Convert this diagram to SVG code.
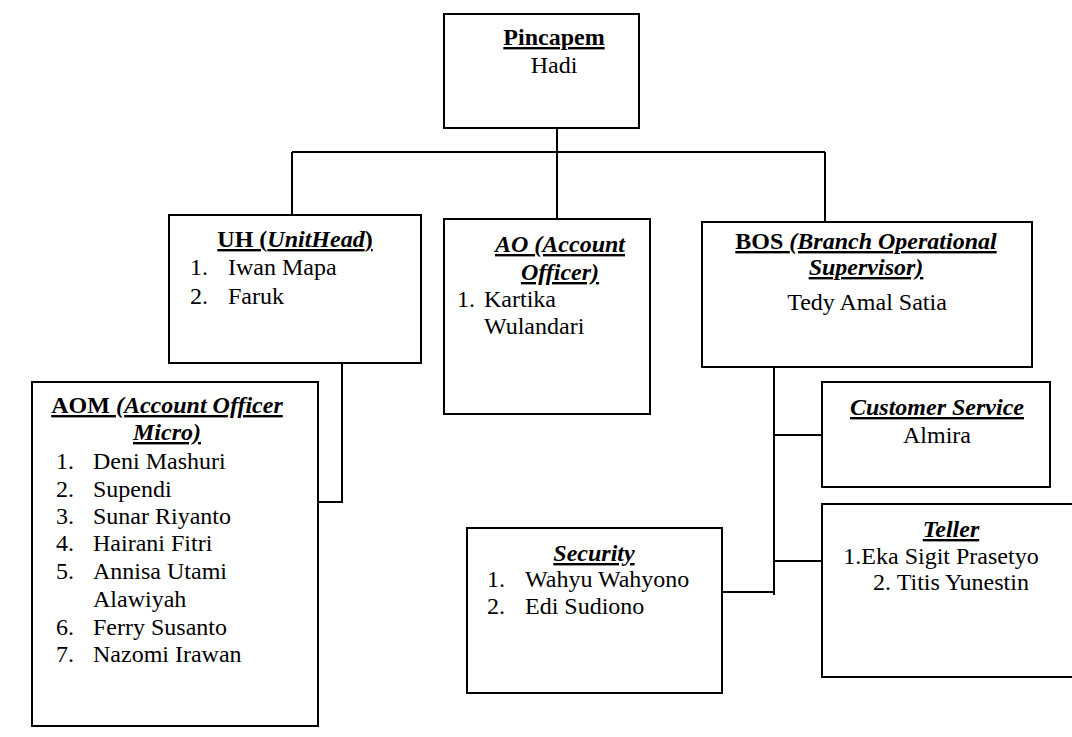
<svg xmlns="http://www.w3.org/2000/svg" width="1072" height="737" viewBox="0 0 1072 737">
<style>
.box{fill:#fff;stroke:#000;stroke-width:2}
.ln{fill:none;stroke:#000;stroke-width:2}
text{font-family:"Liberation Serif",LiberationSerif,Tinos,"Times New Roman",Times,"DejaVu Serif","Noto Serif",FreeSerif,serif;font-size:24px;fill:#000}
.t{font-weight:bold;text-decoration:underline}
.i{font-style:italic}
.c{text-anchor:middle}
</style>
<rect width="1072" height="737" fill="#fff"/>
<g id="connectors">
<path class="ln" d="M557 128V219M292 152H825M292 152V215M825 152V222"/>
<path class="ln" d="M342 363V502H318"/>
<path class="ln" d="M774 367V595M774 435H822M774 561H822M722 592H774"/>
</g>
<g id="pincapem">
<rect class="box" x="444" y="14" width="195" height="114"/>
<text class="t c" x="554" y="45">Pincapem</text>
<text class="c" x="554" y="73">Hadi</text>
</g>
<g id="uh">
<rect class="box" x="169" y="215" width="252" height="148"/>
<text class="t c" x="295" y="247"><tspan>UH (</tspan><tspan class="i">UnitHead</tspan><tspan>)</tspan></text>
<text x="190" y="275">1.</text><text x="228" y="275">Iwan Mapa</text>
<text x="190" y="304">2.</text><text x="228" y="304">Faruk</text>
</g>
<g id="aom">
<rect class="box" x="32" y="382" width="286" height="344"/>
<text class="t c" x="167" y="413"><tspan>AOM </tspan><tspan class="i">(Account Officer</tspan></text>
<text class="t i c" x="167" y="440">Micro)</text>
<text x="56" y="469">1.</text><text x="93" y="469">Deni Mashuri</text>
<text x="56" y="497">2.</text><text x="93" y="497">Supendi</text>
<text x="56" y="524">3.</text><text x="93" y="524">Sunar Riyanto</text>
<text x="56" y="551">4.</text><text x="93" y="551">Hairani Fitri</text>
<text x="56" y="579">5.</text><text x="93" y="579">Annisa Utami</text>
<text x="93" y="607">Alawiyah</text>
<text x="56" y="635">6.</text><text x="93" y="635">Ferry Susanto</text>
<text x="56" y="662">7.</text><text x="93" y="662">Nazomi Irawan</text>
</g>
<g id="ao">
<rect class="box" x="444" y="219" width="206" height="195"/>
<text class="t i c" x="560" y="252">AO (Account</text>
<text class="t i c" x="560" y="280">Officer)</text>
<text x="457" y="307">1.</text><text x="484" y="307">Kartika</text>
<text x="484" y="334">Wulandari</text>
</g>
<g id="bos">
<rect class="box" x="702" y="222" width="330" height="145"/>
<text class="t c" x="866" y="249"><tspan>BOS </tspan><tspan class="i">(Branch Operational</tspan></text>
<text class="t i c" x="866" y="275">Supervisor)</text>
<text class="c" x="867" y="310">Tedy Amal Satia</text>
</g>
<g id="customer-service">
<rect class="box" x="822" y="382" width="228" height="105"/>
<text class="t i c" x="937" y="415">Customer Service</text>
<text class="c" x="937" y="443">Almira</text>
</g>
<g id="teller">
<rect class="box" x="822" y="504" width="262" height="173"/>
<text class="t i c" x="951" y="537">Teller</text>
<text class="c" x="941" y="564">1.Eka Sigit Prasetyo</text>
<text class="c" x="951" y="590">2. Titis Yunestin</text>
</g>
<g id="security">
<rect class="box" x="467" y="528" width="255" height="165"/>
<text class="t i c" x="594" y="561">Security</text>
<text x="487" y="587">1.</text><text x="525" y="587">Wahyu Wahyono</text>
<text x="487" y="614">2.</text><text x="525" y="614">Edi Sudiono</text>
</g>
</svg>
